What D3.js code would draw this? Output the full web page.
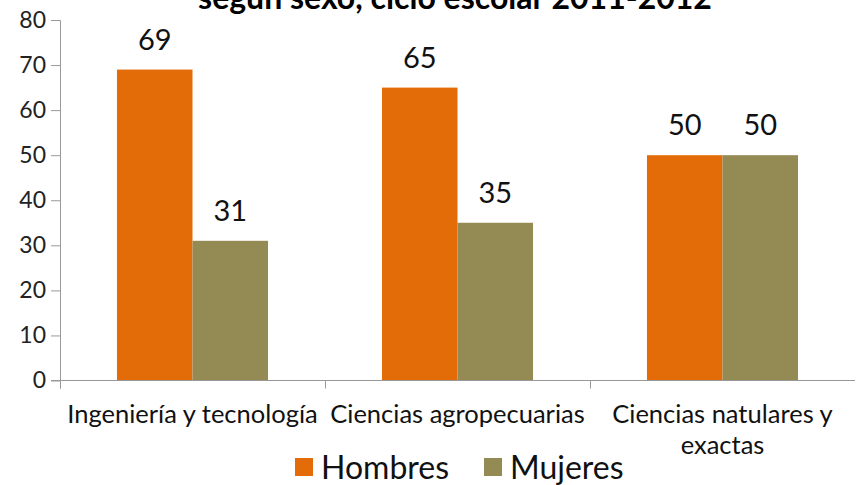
<!DOCTYPE html>
<html><head><meta charset="utf-8">
<script src="https://cdn.jsdelivr.net/npm/d3@7"></script>
<style>body{margin:0;background:#fff}svg{display:block}</style>
</head><body><svg id="c" width="856" height="485"></svg>
<script>
const title = "según sexo, ciclo escolar 2011-2012";
const categories = [["Ingeniería y tecnología"], ["Ciencias agropecuarias"], ["Ciencias natulares y", "exactas"]];
const series = ["Hombres", "Mujeres"];
const hombres = [69, 65, 50];
const mujeres = [31, 35, 50];
const yTicks = [0, 10, 20, 30, 40, 50, 60, 70, 80];
const colors = ["#E36C09", "#948A54"];

const svg = d3.select("#c");
const FONT = "Lato, 'Open Sans', sans-serif";
const pLeft = 60, pRight = 855, pTop = 20, pBottom = 380.5;

const x0 = d3.scaleBand().domain(d3.range(categories.length)).range([pLeft, pRight]).paddingInner(0.43).paddingOuter(0.215);
const x1 = d3.scaleBand().domain(series).range([0, x0.bandwidth()]);
const y = d3.scaleLinear().domain([0, 80]).range([pBottom, pTop]);

// title (cut off at top, as in the reference)
svg.append("text").attr("x", 455).attr("y", 9).attr("text-anchor", "middle")
  .attr("font-family", FONT).attr("font-weight", "bold").attr("font-size", 32).attr("fill", "#000").text(title);

// y axis
const yAxis = d3.axisLeft(y).tickValues(yTicks).tickSize(9).tickPadding(5);
const gy = svg.append("g").attr("transform", `translate(${pLeft},0)`).call(yAxis);
gy.select(".domain").attr("stroke", "#999").attr("d", `M-9,${pTop+0.5}H0.5V${pBottom+8}`);
gy.selectAll(".tick line").attr("stroke", "#999");
gy.selectAll(".tick text").attr("font-family", FONT).attr("font-size", 23).attr("fill", "#222");

// bars
const data = series.map((s, si) => ({ s, vals: si === 0 ? hombres : mujeres, color: colors[si] }));
data.forEach(d => {
  svg.append("g").selectAll("rect").data(d.vals).join("rect")
    .attr("x", (v, i) => x0(i) + x1(d.s))
    .attr("y", v => y(v))
    .attr("width", x1.bandwidth())
    .attr("height", v => y(0) - y(v))
    .attr("fill", d.color);
  svg.append("g").selectAll("text").data(d.vals).join("text")
    .attr("x", (v, i) => x0(i) + x1(d.s) + x1.bandwidth() / 2)
    .attr("y", v => y(v) - 20)
    .attr("text-anchor", "middle")
    .attr("font-family", FONT).attr("font-size", 29).attr("fill", "#111")
    .text(v => v);
});

// x axis
const catEdge = d3.range(categories.length + 1).map(i => pLeft + (pRight - pLeft) * i / categories.length);
svg.append("line").attr("x1", pLeft - 9).attr("x2", pRight).attr("y1", pBottom).attr("y2", pBottom).attr("stroke", "#999");
svg.append("g").selectAll("line").data(catEdge.slice(0, 3)).join("line")
  .attr("x1", d => d + 0.5).attr("x2", d => d + 0.5).attr("y1", pBottom).attr("y2", pBottom + 8).attr("stroke", "#999");

const catG = svg.append("g");
categories.forEach((lines, i) => {
  const cx = x0(i) + x0.bandwidth() / 2;
  const t = catG.append("text").attr("text-anchor", "middle").attr("font-family", FONT).attr("font-size", 25.5).attr("fill", "#111");
  lines.forEach((ln, j) => t.append("tspan").attr("x", cx).attr("y", 423 + j * 31).text(ln));
});

// legend
const legX = [295, 484];
series.forEach((s, i) => {
  svg.append("rect").attr("x", legX[i]).attr("y", 458).attr("width", 18).attr("height", 18).attr("fill", colors[i]);
  svg.append("text").attr("x", legX[i] + 26).attr("y", 479).attr("font-family", FONT).attr("font-size", 32).attr("fill", "#111").text(s);
});
</script></body></html>
